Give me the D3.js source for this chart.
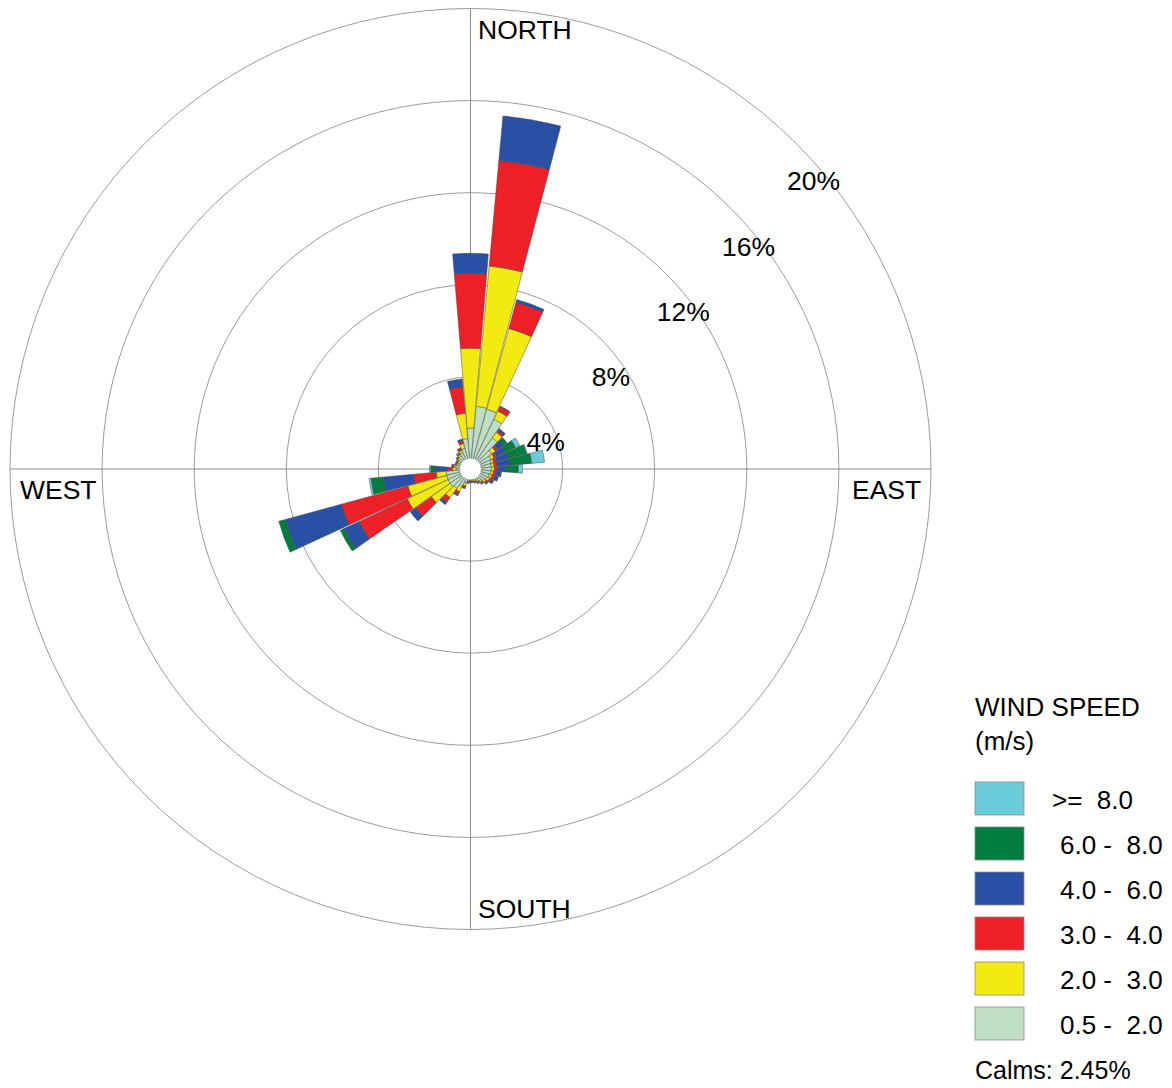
<!DOCTYPE html>
<html>
<head>
<meta charset="utf-8">
<script src="https://cdn.jsdelivr.net/npm/d3@7"></script>
<style>
  html, body { margin: 0; padding: 0; background: #fff; }
  svg { display: block; }
  text { font-family: "Liberation Sans", Arial, sans-serif; fill: #000; white-space: pre; }
</style>
</head>
<body>
<svg id="rose" width="1172" height="1088"></svg>
<script>
// Direction bins (degrees clockwise from north), 10-degree sectors
const directions = d3.range(0, 360, 10);

// Frequency (%) per direction for each wind speed class (m/s)
const speed05to2 = [1.78,2.73,2.69,2.39,1.65,1.13,0.98,0.93,0.91,0.91,0.88,0.85,0.80,0.72,0.65,0.58,0.52,0.48,0.47,0.50,0.65,0.85,1.03,1.08,1.08,1.08,1.06,0.63,0.65,0.58,0.58,0.62,0.70,0.80,0.93,1.33];
const speed2to3  = [3.47,6.12,3.64,0.39,0.30,0.20,0.15,0.12,0.12,0.13,0.12,0.12,0.12,0.10,0.07,0.06,0.05,0.05,0.05,0.06,0.12,0.25,0.50,1.00,1.96,1.74,0.44,0.15,0.08,0.06,0.06,0.07,0.08,0.10,0.22,1.10];
const speed3to4  = [3.25,4.60,1.17,0.21,0.10,0.12,0.12,0.14,0.14,0.13,0.12,0.12,0.10,0.08,0.06,0.05,0.04,0.04,0.04,0.04,0.07,0.12,0.25,0.83,2.30,2.99,0.97,0.20,0.06,0.04,0.04,0.05,0.06,0.08,0.12,1.15];
const speed4to6  = [0.87,1.95,0.13,0.03,0.10,0.32,0.42,0.50,0.56,0.35,0.20,0.17,0.11,0.06,0.04,0.03,0.03,0.02,0.02,0.03,0.05,0.08,0.12,0.30,0.73,2.52,1.32,0.55,0.04,0.02,0.02,0.03,0.03,0.04,0.08,0.35];
const speed6to8  = [0,0,0,0,0,0.18,0.50,0.83,0.94,0.56,0.03,0,0,0,0,0,0,0,0,0,0,0,0,0,0.18,0.30,0.55,0.20,0,0,0,0,0,0,0,0];
const speed8up   = [0,0,0,0,0,0,0.20,0.04,0.56,0.18,0,0,0,0,0,0,0,0,0,0,0,0,0,0,0,0,0.08,0.05,0,0,0,0,0,0,0,0];

// Speed classes from the centre outward
const speedKeys   = ["s05", "s2", "s3", "s4", "s6", "s8"];
const speedSeries = [speed05to2, speed2to3, speed3to4, speed4to6, speed6to8, speed8up];
const speedColors = ["#bedfc3", "#f2ea10", "#ee1f26", "#2850a4", "#007d3f", "#6ccbd9"];
const speedLabels = ["0.5 -  2.0", "2.0 -  3.0", "3.0 -  4.0", "4.0 -  6.0", "6.0 -  8.0", ">=  8.0"];

// Rings and compass labels
const ringValues = [4, 8, 12, 16, 20];
const ringLabels = ["4%", "8%", "12%", "16%", "20%"];
const compassLabels = ["NORTH", "EAST", "SOUTH", "WEST"];
const calmsText = "Calms: 2.45%";

const svg = d3.select("#rose");
const cx = 470.5, cy = 469;
const maxR = 460.5;
const calmRadius = 10.5;

const r = d3.scaleLinear().domain([0, 20]).range([0, maxR]);
const color = d3.scaleOrdinal().domain(speedKeys).range(speedColors);

svg.append("rect").attr("width", 1172).attr("height", 1088).attr("fill", "#fff");

const g = svg.append("g").attr("transform", `translate(${cx},${cy})`);

// Grid rings
g.selectAll("circle.ring")
  .data(ringValues)
  .join("circle")
  .attr("class", "ring")
  .attr("r", d => r(d))
  .attr("fill", "none")
  .attr("stroke", "#9c9c9c")
  .attr("stroke-width", 1);

// Cross-hair axes
g.append("line").attr("x1", 0).attr("x2", 0).attr("y1", -r(20)).attr("y2", r(20))
  .attr("stroke", "#8c8c8c").attr("stroke-width", 1);
g.append("line").attr("y1", 0).attr("y2", 0).attr("x1", -r(20)).attr("x2", r(20))
  .attr("stroke", "#8c8c8c").attr("stroke-width", 1);

// Stacked petals
const rows = directions.map((dir, i) => {
  const row = { dir };
  speedKeys.forEach((k, j) => { row[k] = speedSeries[j][i]; });
  return row;
});
const stacked = d3.stack().keys(speedKeys)(rows);

const halfWidth = 4.75 * Math.PI / 180;
const arc = d3.arc()
  .innerRadius(d => Math.max(r(d[0]), 0))
  .outerRadius(d => r(d[1]))
  .startAngle(d => d.data.dir * Math.PI / 180 - halfWidth)
  .endAngle(d => d.data.dir * Math.PI / 180 + halfWidth);

g.selectAll("g.layer")
  .data(stacked)
  .join("g")
  .attr("class", "layer")
  .attr("fill", d => color(d.key))
  .selectAll("path")
  .data(d => d.filter(s => s[1] - s[0] > 0))
  .join("path")
  .attr("d", arc)
  .attr("stroke", "#4a4a4a")
  .attr("stroke-width", 0.5);

// Calm circle
g.append("circle").attr("r", calmRadius).attr("fill", "#fff");

// Ring percentage labels along the north-east diagonal
g.selectAll("text.ringlabel")
  .data(ringValues)
  .join("text")
  .attr("class", "ringlabel")
  .attr("x", (d) => r(d) * Math.SQRT1_2 - 9)
  .attr("y", (d) => -r(d) * Math.SQRT1_2 + 47)
  .attr("font-size", 26.5)
  .text((d, i) => ringLabels[i]);

// Compass labels
const compassPos = [
  { x: 478, y: 39 },
  { x: 852, y: 499 },
  { x: 478, y: 918 },
  { x: 20,  y: 499 }
];
svg.selectAll("text.compass")
  .data(compassLabels)
  .join("text")
  .attr("class", "compass")
  .attr("x", (d, i) => compassPos[i].x)
  .attr("y", (d, i) => compassPos[i].y)
  .attr("font-size", 26.5)
  .text(d => d);

// Legend
const legend = svg.append("g").attr("transform", "translate(975,0)");
legend.append("text").attr("x", 0).attr("y", 716).attr("font-size", 26).text("WIND SPEED");
legend.append("text").attr("x", 0).attr("y", 750).attr("font-size", 26).text("(m/s)");

const legendOrder = d3.range(speedKeys.length).reverse();
const items = legend.selectAll("g.item")
  .data(legendOrder)
  .join("g")
  .attr("class", "item")
  .attr("transform", (d, i) => `translate(0,${782 + i * 45})`);
items.append("rect")
  .attr("width", 49).attr("height", 33)
  .attr("fill", d => speedColors[d])
  .attr("stroke", "#8a8a8a").attr("stroke-width", 0.8);
items.append("text")
  .attr("x", d => speedKeys[d] === "s8" ? 77 : 85)
  .attr("y", 27)
  .attr("font-size", 26)
  .text(d => speedLabels[d]);

legend.append("text").attr("x", 0).attr("y", 1079).attr("font-size", 25).text(calmsText);
</script>
</body>
</html>
